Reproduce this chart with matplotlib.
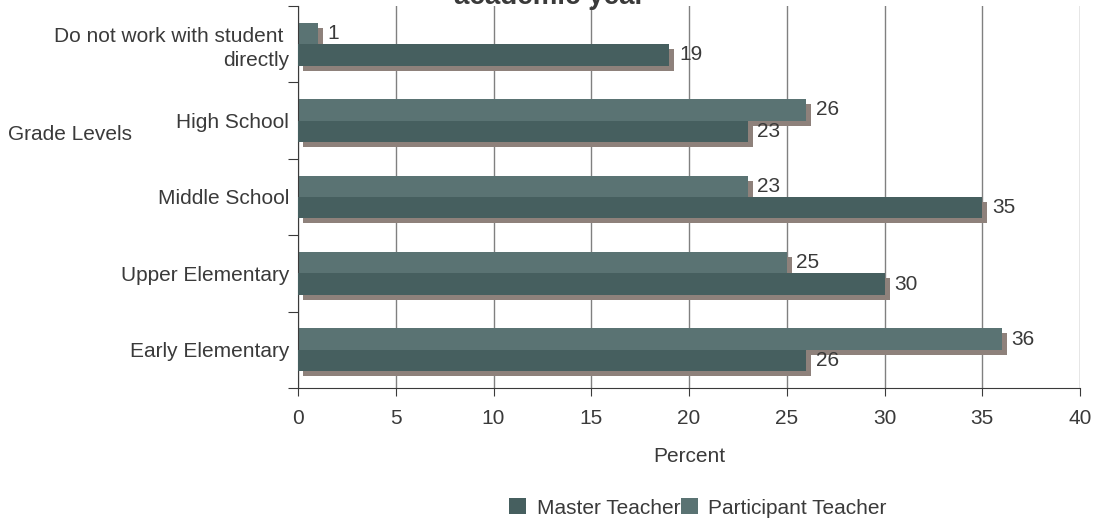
import matplotlib
matplotlib.use("Agg")
import matplotlib.pyplot as plt
import matplotlib.patheffects as pe
from matplotlib.patches import Patch
import numpy as np

categories = ["Early Elementary", "Upper Elementary", "Middle School",
              "High School", "Do not work with student \ndirectly"]
master = [26, 30, 35, 23, 19]
participant = [36, 25, 23, 26, 1]

master_color = "#465f5f"
participant_color = "#5a7373"
shadow_color = "#8e817b"
text_color = "#3a3a3a"

plt.rcParams['font.family'] = ['Liberation Sans', 'DejaVu Sans']
fs = 15

W, H = 1099, 523
fig = plt.figure(figsize=(W / 100, H / 100), dpi=100)
ax = fig.add_axes([298 / W, 1 - 388 / H, (1080 - 298) / W, (388 - 6) / H])

y = np.arange(len(categories))
h = 0.28
shadow = [pe.SimplePatchShadow(offset=(3.6, -3.6), shadow_rgbFace=shadow_color, alpha=1.0), pe.Normal()]

# participant first so the master bar covers its shadow
pbars = ax.barh(y + h / 2, participant, height=h, color=participant_color, path_effects=shadow, zorder=2)
mbars = ax.barh(y - h / 2, master, height=h, color=master_color, path_effects=shadow, zorder=3)

for bars, vals in [(pbars, participant), (mbars, master)]:
    for b, v in zip(bars, vals):
        ax.annotate(str(v), (b.get_width(), b.get_y() + b.get_height() / 2),
                    xytext=(7, 0), textcoords="offset points",
                    ha="left", va="center", fontsize=fs, color=text_color, zorder=4)

ax.set_xlim(0, 40)
ax.set_ylim(-0.5, len(categories) - 0.5)
ax.set_xticks(np.arange(0, 41, 5))
ax.grid(axis="x", color="#808080", linewidth=1)
ax.set_axisbelow(True)

ax.set_yticks(np.arange(-0.5, len(categories), 1))
ax.set_yticklabels([])
ax.set_yticks(y, minor=True)
ax.set_yticklabels(categories, minor=True, linespacing=1.3)
ax.tick_params(axis="y", which="major", length=7, color=text_color)
ax.tick_params(axis="y", which="minor", length=0, pad=6.5, labelsize=fs, labelcolor=text_color)
ax.tick_params(axis="x", length=6, color=text_color, pad=9, labelsize=fs, labelcolor=text_color)

for s in ["top", "right"]:
    ax.spines[s].set_visible(False)
for s in ["left", "bottom"]:
    ax.spines[s].set_color(text_color)

ax.set_xlabel("Percent", fontsize=fs, color=text_color, labelpad=14)

fig.text(8 / W, 1 - 135 / H, "Grade Levels", ha="left", va="center", fontsize=fs, color=text_color)
fig.text(0.5, 1 - 4 / H, "academic year", ha="center", va="baseline",
         fontsize=20, fontweight="bold", color=text_color)

handles = [Patch(facecolor=master_color, label="Master Teacher"),
           Patch(facecolor=participant_color, label="Participant Teacher")]
fig.legend(handles=handles, loc="center", bbox_to_anchor=(698 / W, 15 / H), ncol=2,
           frameon=False, fontsize=fs, handlelength=0.8, handleheight=0.8,
           handletextpad=0.5, columnspacing=0.05, labelcolor=text_color)

fig.savefig("out.png", dpi=100)
